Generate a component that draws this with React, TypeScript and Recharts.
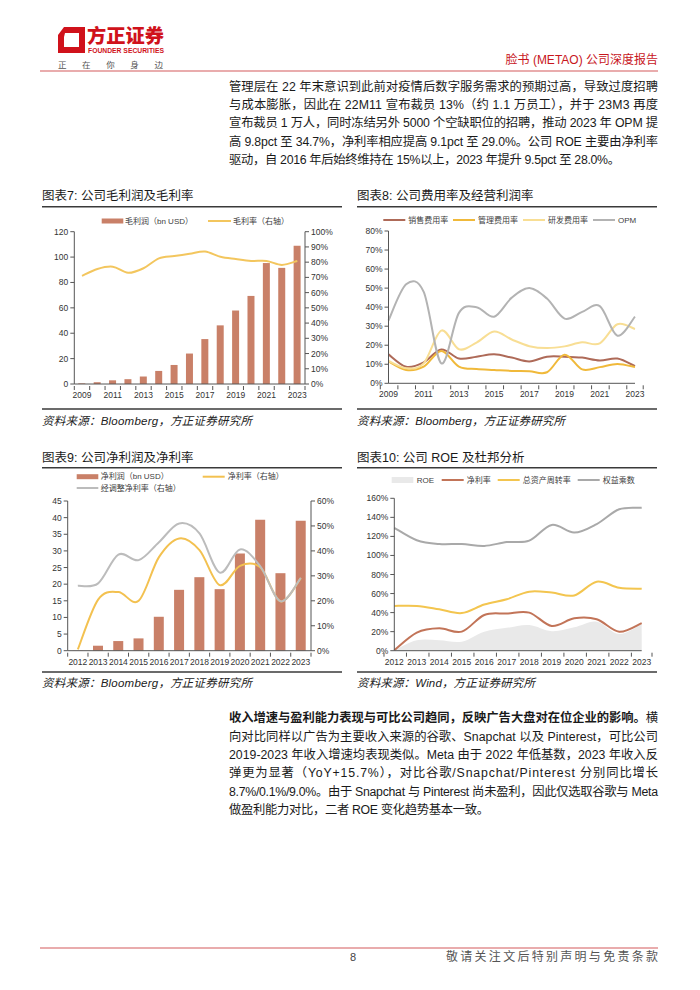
import React from 'react';
import { ComposedChart, Bar, Line, Area, XAxis, YAxis } from 'recharts';

// ---- data ----
const YEARS_0923 = ['2009', '2010', '2011', '2012', '2013', '2014', '2015', '2016', '2017', '2018', '2019', '2020', '2021', '2022', '2023'];
const YEARS_1223 = ['2012', '2013', '2014', '2015', '2016', '2017', '2018', '2019', '2020', '2021', '2022', '2023'];

// 图表7
const grossProfit = [0.5, 1.4, 2.9, 3.8, 5.9, 10.3, 15.0, 24.0, 35.4, 46.2, 57.9, 69.4, 95.3, 91.5, 109.0];
const grossMargin = [71, 75.5, 77, 73, 76, 82.5, 84, 85.5, 87, 83.5, 82, 80.8, 80.8, 78.2, 80.8];

// 图表8
const sellingRatio = [15.2, 8.7, 11, 17.8, 13, 14, 15.2, 13.5, 11.5, 14, 14, 13.5, 12, 13, 9];
const adminRatio = [11.5, 7, 8.7, 17, 8.8, 7.5, 7, 6.5, 6.3, 5.8, 15, 7.3, 8.5, 10.2, 8.5];
const rdRatio = [11.7, 7.9, 10.5, 27.7, 17.9, 21.4, 27.2, 23, 19.5, 18.5, 19.4, 21.5, 21, 31, 28.5];
const opmRatio = [33, 52, 48, 10.5, 37, 40, 35, 45, 50, 44.5, 34, 37.5, 40.5, 25, 35];

// 图表9
const netProfit = [0.05, 1.5, 2.9, 3.7, 10.2, 18.3, 22.1, 18.5, 29.2, 39.4, 23.3, 39.1];
const netMargin = [0.5, 20.5, 23.5, 20, 37.5, 45, 40.3, 26.3, 34, 33.4, 19.8, 29.1];
const adjNetMargin = [26, 27, 38.5, 36.3, 43.5, 51, 47, 31.3, 40.6, 33.8, 19.8, 29.2];

// 图表10
const roe = [0.5, 11, 11, 9.5, 20, 24, 27, 20.5, 24.5, 30.5, 17.5, 28];
const dupontNetMargin = [0.5, 19, 23.5, 20, 37.5, 39, 40, 26, 34, 33, 20, 29];
const assetTurnover = [47, 47, 43.5, 39.5, 48.5, 54, 62, 61, 58, 72.5, 66, 65];
const equityMultiplier = [129, 116, 112, 112, 110, 114, 115.5, 132, 124, 133, 148.5, 150];

const ticks0to120 = [0, 20, 40, 60, 80, 100, 120];
const ticks0to100 = [0, 10, 20, 30, 40, 50, 60, 70, 80, 90, 100];
const ticks0to80 = [0, 10, 20, 30, 40, 50, 60, 70, 80];
const ticks0to45 = [0, 5, 10, 15, 20, 25, 30, 35, 40, 45];
const ticks0to60 = [0, 10, 20, 30, 40, 50, 60];
const ticks0to160 = [0, 20, 40, 60, 80, 100, 120, 140, 160];

// ---- text ----
const para1 = [
  '管理层在 22 年末意识到此前对疫情后数字服务需求的预期过高，导致过度招聘',
  '与成本膨胀，因此在 22M11 宣布裁员 13%（约 1.1 万员工），并于 23M3 再度',
  '宣布裁员 1 万人，同时冻结另外 5000 个空缺职位的招聘，推动 2023 年 OPM 提',
  '高 9.8pct 至 34.7%，净利率相应提高 9.1pct 至 29.0%。公司 ROE 主要由净利率',
  '驱动，自 2016 年后始终维持在 15%以上，2023 年提升 9.5pct 至 28.0%。',
];
const para2 = [
  '向对比同样以广告为主要收入来源的谷歌、Snapchat 以及 Pinterest，可比公司',
  '2019-2023 年收入增速均表现类似。Meta 由于 2022 年低基数，2023 年收入反',
  '弹更为显著（YoY+15.7%），对比谷歌/Snapchat/Pinterest 分别同比增长',
  '8.7%/0.1%/9.0%。由于 Snapchat 与 Pinterest 尚未盈利，因此仅选取谷歌与 Meta',
  '做盈利能力对比，二者 ROE 变化趋势基本一致。',
];

const RED = '#d0121b';
const AX = '#555';
const TXT = '#333';
const BAR = '#c98068';
const LAT = '"Liberation Sans", Arial, sans-serif';
const CJK = '"Liberation Sans", "Noto Sans CJK SC", sans-serif';

// Excel-like smoothed line (Catmull-Rom through the points)
const smooth: any = (ctx: any) => {
  let pts: number[][] = [];
  let line = NaN;
  return {
    areaStart() { line = 0; },
    areaEnd() { line = NaN; },
    lineStart() { pts = []; },
    point(x: number, y: number) { pts.push([+x, +y]); },
    lineEnd() {
      const n = pts.length;
      if (n) {
        if (line === 1) ctx.lineTo(pts[0][0], pts[0][1]);
        else ctx.moveTo(pts[0][0], pts[0][1]);
        for (let i = 0; i < n - 1; i++) {
          const p0 = pts[i > 0 ? i - 1 : i];
          const p1 = pts[i];
          const p2 = pts[i + 1];
          const p3 = pts[i + 2 < n ? i + 2 : i + 1];
          ctx.bezierCurveTo(
            p1[0] + (p2[0] - p0[0]) / 6, p1[1] + (p2[1] - p0[1]) / 6,
            p2[0] - (p3[0] - p1[0]) / 6, p2[1] - (p3[1] - p1[1]) / 6,
            p2[0], p2[1]
          );
        }
      }
      if (line === 1) ctx.closePath();
      line = 1 - line;
    },
  };
};

// category tick: label at centre, tick marks at band edges
function makeTick(bw: number, every: number, count: number) {
  return (props: any) => {
    const { x, y, payload, index } = props;
    const axisY = y - 6;
    return (
      <g>
        <line x1={x - bw / 2} x2={x - bw / 2} y1={axisY} y2={axisY + 4} stroke={AX} />
        {index === count - 1 && <line x1={x + bw / 2} x2={x + bw / 2} y1={axisY} y2={axisY + 4} stroke={AX} />}
        {index % every === 0 && (
          <text x={x} y={y} dy="0.71em" textAnchor="middle" fontSize={8.5} fill={TXT} fontFamily={LAT}>
            {payload.value}
          </text>
        )}
      </g>
    );
  };
}

const yTick = { fontSize: 8.5, fill: TXT, fontFamily: LAT };
const pct = (v: number) => `${v}%`;

function Chart7() {
  const data = YEARS_0923.map((year, i) => ({ year, gp: grossProfit[i], gm: grossMargin[i] }));
  const bw = (300 - 32.3 - 37) / 15;
  return (
    <ComposedChart width={300} height={200} data={data} margin={{ top: 24.7, right: 0, bottom: 0, left: 0 }}>
      <XAxis dataKey="year" height={23} interval={0} tickLine={false} axisLine={{ stroke: AX }} tick={makeTick(bw, 2, 15)} />
      <YAxis yAxisId="l" domain={[0, 120]} ticks={ticks0to120} width={32.3} tickSize={4} axisLine={{ stroke: AX }} tickLine={{ stroke: AX }} tick={yTick} />
      <YAxis yAxisId="r" orientation="right" domain={[0, 100]} ticks={ticks0to100} tickFormatter={pct} width={37} tickSize={4} axisLine={{ stroke: AX }} tickLine={{ stroke: AX }} tick={yTick} />
      <Bar yAxisId="l" dataKey="gp" fill={BAR} barSize={7} isAnimationActive={false} />
      <Line yAxisId="r" dataKey="gm" type={smooth} stroke="#f3c65e" strokeWidth={2} dot={false} activeDot={false} isAnimationActive={false} />
    </ComposedChart>
  );
}

function Chart8() {
  const data = YEARS_0923.map((year, i) => ({ year, s: sellingRatio[i], a: adminRatio[i], r: rdRatio[i], o: opmRatio[i] }));
  const bw = (300 - 31.5 - 22) / 15;
  return (
    <ComposedChart width={300} height={200} data={data} margin={{ top: 24, right: 22, bottom: 0, left: 0 }}>
      <XAxis dataKey="year" height={23.7} interval={0} tickLine={false} axisLine={{ stroke: AX }} tick={makeTick(bw, 2, 15)} />
      <YAxis domain={[0, 80]} ticks={ticks0to80} tickFormatter={pct} width={31.5} tickSize={4} axisLine={{ stroke: AX }} tickLine={{ stroke: AX }} tick={yTick} />
      <Line dataKey="s" type={smooth} stroke="#ae6a58" strokeWidth={2} dot={false} activeDot={false} isAnimationActive={false} />
      <Line dataKey="a" type={smooth} stroke="#f0b93a" strokeWidth={2} dot={false} activeDot={false} isAnimationActive={false} />
      <Line dataKey="r" type={smooth} stroke="#f8de94" strokeWidth={2} dot={false} activeDot={false} isAnimationActive={false} />
      <Line dataKey="o" type={smooth} stroke="#b3b3b3" strokeWidth={2} dot={false} activeDot={false} isAnimationActive={false} />
    </ComposedChart>
  );
}

function Chart9() {
  const data = YEARS_1223.map((year, i) => ({ year, np: netProfit[i], nm: netMargin[i], adj: adjNetMargin[i] }));
  const bw = (300 - 25.7 - 31) / 12;
  return (
    <ComposedChart width={300} height={200} data={data} margin={{ top: 33, right: 0, bottom: 0, left: 0 }}>
      <XAxis dataKey="year" height={17.3} interval={0} tickLine={false} axisLine={{ stroke: AX }} tick={makeTick(bw, 1, 12)} />
      <YAxis yAxisId="l" domain={[0, 45]} ticks={ticks0to45} width={25.7} tickSize={4} axisLine={{ stroke: AX }} tickLine={{ stroke: AX }} tick={yTick} />
      <YAxis yAxisId="r" orientation="right" domain={[0, 60]} ticks={ticks0to60} tickFormatter={pct} width={31} tickSize={4} axisLine={{ stroke: AX }} tickLine={{ stroke: AX }} tick={yTick} />
      <Bar yAxisId="l" dataKey="np" fill={BAR} barSize={10} isAnimationActive={false} />
      <Line yAxisId="r" dataKey="nm" type={smooth} stroke="#f3c150" strokeWidth={2} dot={false} activeDot={false} isAnimationActive={false} />
      <Line yAxisId="r" dataKey="adj" type={smooth} stroke="#bcbcbc" strokeWidth={2} dot={false} activeDot={false} isAnimationActive={false} />
    </ComposedChart>
  );
}

function Chart10() {
  const data = YEARS_1223.map((year, i) => ({ year, roe: roe[i], nm: dupontNetMargin[i], at: assetTurnover[i], em: equityMultiplier[i] }));
  const bw = (300 - 37.3 - 15.3) / 12;
  return (
    <ComposedChart width={300} height={200} data={data} margin={{ top: 30.3, right: 15.3, bottom: 0, left: 0 }}>
      <XAxis dataKey="year" height={17.3} interval={0} tickLine={false} axisLine={{ stroke: AX }} tick={makeTick(bw, 1, 12)} />
      <YAxis domain={[0, 160]} ticks={ticks0to160} tickFormatter={pct} width={37.3} tickSize={4} axisLine={{ stroke: AX }} tickLine={{ stroke: AX }} tick={yTick} />
      <Area dataKey="roe" type={smooth} fill="#e9e9e9" fillOpacity={1} stroke="none" isAnimationActive={false} />
      <Line dataKey="nm" type={smooth} stroke="#c27458" strokeWidth={2} dot={false} activeDot={false} isAnimationActive={false} />
      <Line dataKey="at" type={smooth} stroke="#f3c54f" strokeWidth={2} dot={false} activeDot={false} isAnimationActive={false} />
      <Line dataKey="em" type={smooth} stroke="#a9a9a9" strokeWidth={2} dot={false} activeDot={false} isAnimationActive={false} />
    </ComposedChart>
  );
}

const legendText = { fontSize: 8, fill: '#404040', fontFamily: CJK, dominantBaseline: 'central' as const };

function LineKey({ x, y, color, label }: { x: number; y: number; color: string; label: string }) {
  return (
    <g>
      <line x1={x} x2={x + 22} y1={y} y2={y} stroke={color} strokeWidth={2} />
      <text x={x + 25} y={y} {...legendText}>{label}</text>
    </g>
  );
}

function Page() {
  const bodyFont = { fontSize: 12.3, fill: '#1a1a1a', fontFamily: CJK, dominantBaseline: 'central' as const };
  const srcFont = { fontSize: 11.5, fill: '#222', fontFamily: CJK, fontStyle: 'italic', dominantBaseline: 'central' as const };
  const titleFont = { fontSize: 12.5, fill: '#1a1a1a', fontFamily: CJK, dominantBaseline: 'central' as const };
  return (
    <svg width={700} height={990} style={{ position: 'absolute', left: 0, top: 0 }}>
      {/* header */}
      <path d="M64 27 L85 27 L85 53 L58 53 L58 35 Z M65 33 L79 33 L79 47 L64 47 L64 37 Z" fill={RED} fillRule="evenodd" />
      <text x={87} y={36} fontSize={19} fontWeight={900} fill={RED} fontFamily={CJK} dominantBaseline="central" textLength={77} lengthAdjust="spacingAndGlyphs">方正证券</text>
      <text x={88} y={50.5} fontSize={6.5} fontWeight={700} fill={RED} fontFamily={LAT} dominantBaseline="central" textLength={76} lengthAdjust="spacingAndGlyphs">FOUNDER SECURITIES</text>
      <text x={58} y={65} fontSize={8.5} fill="#555" fontFamily={CJK} dominantBaseline="central" textLength={105} lengthAdjust="spacing">正在你身边</text>
      <text x={658} y={60} fontSize={12} fill="#c8161d" fontFamily={CJK} textAnchor="end" dominantBaseline="central">脸书 (METAO) 公司深度报告</text>
      <line x1={40} x2={658} y1={71} y2={71} stroke="#d35a5d" strokeWidth={1.2} />

      {/* paragraph 1 */}
      {para1.map((t, i) => (
        <text key={i} x={229} y={86.5 + 18.4 * i} {...bodyFont} textLength={i < 4 ? 429 : 391} lengthAdjust="spacing">{t}</text>
      ))}

      {/* titles, rules, sources */}
      <text x={42} y={196} {...titleFont}>图表7: 公司毛利润及毛利率</text>
      <text x={357} y={196} {...titleFont}>图表8: 公司费用率及经营利润率</text>
      <text x={42} y={458} {...titleFont}>图表9: 公司净利润及净利率</text>
      <text x={357} y={458} {...titleFont}>图表10: 公司 ROE 及杜邦分析</text>
      {[206.7, 409, 467.7, 672].map((y, i) => (
        <g key={i}>
          <line x1={42} x2={342} y1={y} y2={y} stroke="#3a3a3a" strokeWidth={1.5} />
          <line x1={357} x2={657} y1={y} y2={y} stroke="#3a3a3a" strokeWidth={1.5} />
        </g>
      ))}
      <text x={42} y={421} {...srcFont} textLength={210} lengthAdjust="spacing">资料来源：Bloomberg，方正证券研究所</text>
      <text x={357} y={421} {...srcFont} textLength={208} lengthAdjust="spacing">资料来源：Bloomberg，方正证券研究所</text>
      <text x={42} y={683} {...srcFont} textLength={210} lengthAdjust="spacing">资料来源：Bloomberg，方正证券研究所</text>
      <text x={357} y={683} {...srcFont} textLength={178} lengthAdjust="spacing">资料来源：Wind，方正证券研究所</text>

      {/* legends */}
      <rect x={101.7} y={218.5} width={21.6} height={5} fill={BAR} />
      <text x={125} y={221} {...legendText}>毛利润（bn USD）</text>
      <line x1={208} x2={231} y1={221} y2={221} stroke="#f3c65e" strokeWidth={2} />
      <text x={233} y={221} {...legendText}>毛利率（右轴）</text>

      <LineKey x={383.3} y={220} color="#ae6a58" label="销售费用率" />
      <LineKey x={453} y={220} color="#f0b93a" label="管理费用率" />
      <LineKey x={523} y={220} color="#f8de94" label="研发费用率" />
      <LineKey x={593} y={220} color="#b3b3b3" label="OPM" />

      <rect x={76.7} y={474.2} width={21.6} height={5} fill={BAR} />
      <text x={100.7} y={476.7} {...legendText}>净利润（bn USD）</text>
      <LineKey x={202.7} y={476.7} color="#f3c150" label="净利率（右轴）" />
      <line x1={76.7} x2={98.3} y1={488} y2={488} stroke="#bcbcbc" strokeWidth={2} />
      <text x={100.7} y={488} {...legendText}>经调整净利率（右轴）</text>

      <rect x={391.7} y={477} width={21.6} height={6} fill="#e9e9e9" />
      <text x={416.7} y={480} {...legendText}>ROE</text>
      <LineKey x={441.7} y={480} color="#c27458" label="净利率" />
      <LineKey x={497.7} y={480} color="#f3c54f" label="总资产周转率" />
      <LineKey x={577.7} y={480} color="#a9a9a9" label="权益乘数" />

      {/* paragraph 2 */}
      <text x={229} y={718.3} {...bodyFont} textLength={429} lengthAdjust="spacing">
        <tspan fontWeight={700}>收入增速与盈利能力表现与可比公司趋同，反映广告大盘对在位企业的影响。</tspan>
        <tspan>横</tspan>
      </text>
      {para2.map((t, i) => (
        <text key={i} x={229} y={736.7 + 18.35 * i} {...bodyFont} textLength={i < 4 ? 429 : 260} lengthAdjust="spacing">{t}</text>
      ))}

      {/* footer */}
      <line x1={40} x2={658} y1={948} y2={948} stroke="#d35a5d" strokeWidth={1.2} />
      <text x={353} y={957} fontSize={11} fill="#444" fontFamily={LAT} textAnchor="middle" dominantBaseline="central">8</text>
      <text x={446} y={957} fontSize={12} fill="#555" fontFamily={CJK} dominantBaseline="central" textLength={212} lengthAdjust="spacing">敬请关注文后特别声明与免责条款</text>
    </svg>
  );
}

export default function App() {
  const box = (left: number, top: number): React.CSSProperties => ({ position: 'absolute', left, top, width: 300, height: 200 });
  return (
    <div style={{ position: 'absolute', left: 0, top: 0, width: 700, height: 990, background: '#fff', overflow: 'hidden' }}>
      <Page />
      <div style={box(42, 207)}><Chart7 /></div>
      <div style={box(357, 207)}><Chart8 /></div>
      <div style={box(42, 468)}><Chart9 /></div>
      <div style={box(357, 468)}><Chart10 /></div>
    </div>
  );
}
